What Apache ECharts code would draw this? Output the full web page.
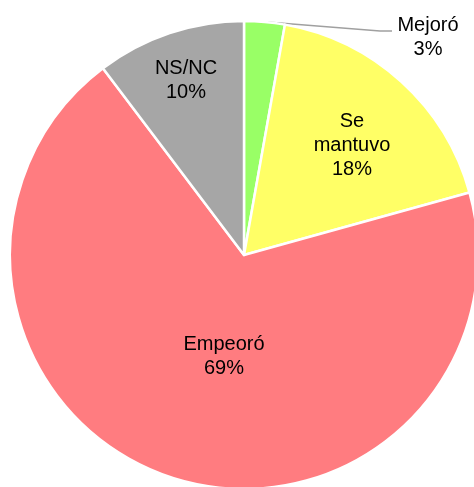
<!DOCTYPE html>
<html>
<head>
<meta charset="utf-8">
<script src="https://cdn.jsdelivr.net/npm/echarts@6/dist/echarts.min.js"></script>
<style>
  html, body { margin: 0; padding: 0; background: #fff; }
  #pieChart { width: 474px; height: 487px; }
</style>
</head>
<body>
<div id="pieChart"></div>
<script>
const categories = ["Mejoró", "Se\nmantuvo", "Empeoró", "NS/NC"];
const values = [2.8, 17.9, 69.0, 10.3];
const colors = ["#99FF66", "#FFFF66", "#FF7C80", "#A6A6A6"];

// where each label sits (label centre, px)
const labelPos = [
  { x: 428, y: 37 },
  { x: 352, y: 145 },
  { x: 224, y: 356 },
  { x: 186, y: 80 },
];

const chart = echarts.init(document.getElementById("pieChart"));
chart.setOption({
  animation: false,
  series: [
    {
      type: "pie",
      center: [244, 255],
      radius: 234,
      startAngle: 90,
      clockwise: true,
      avoidLabelOverlap: false,
      itemStyle: { borderColor: "#fff", borderWidth: 2.5 },
      label: {
        show: true,
        position: "inside",
        color: "#000",
        fontFamily: "Liberation Sans, Arial, sans-serif",
        fontSize: 20,
        lineHeight: 24,
        align: "center",
        formatter: (p) => p.name + "\n" + Math.round(p.percent) + "%",
      },
      labelLine: { show: false },
      labelLayout: (params) => {
        const pos = labelPos[params.dataIndex];
        const out = { x: pos.x, y: pos.y, align: "center", verticalAlign: "middle" };
        if (params.dataIndex === 0) {
          // leader line for the small slice
          out.labelLinePoints = [[267, 22], [380, 31], [392, 31]];
        }
        return out;
      },
      data: categories.map((name, i) => {
        const item = { name: name, value: values[i], itemStyle: { color: colors[i] } };
        if (i === 0) {
          item.label = { position: "outside" };
          item.labelLine = { show: true, lineStyle: { color: "#A0A0A0", width: 1.5 } };
        }
        return item;
      }),
    },
  ],
});
</script>
</body>
</html>
